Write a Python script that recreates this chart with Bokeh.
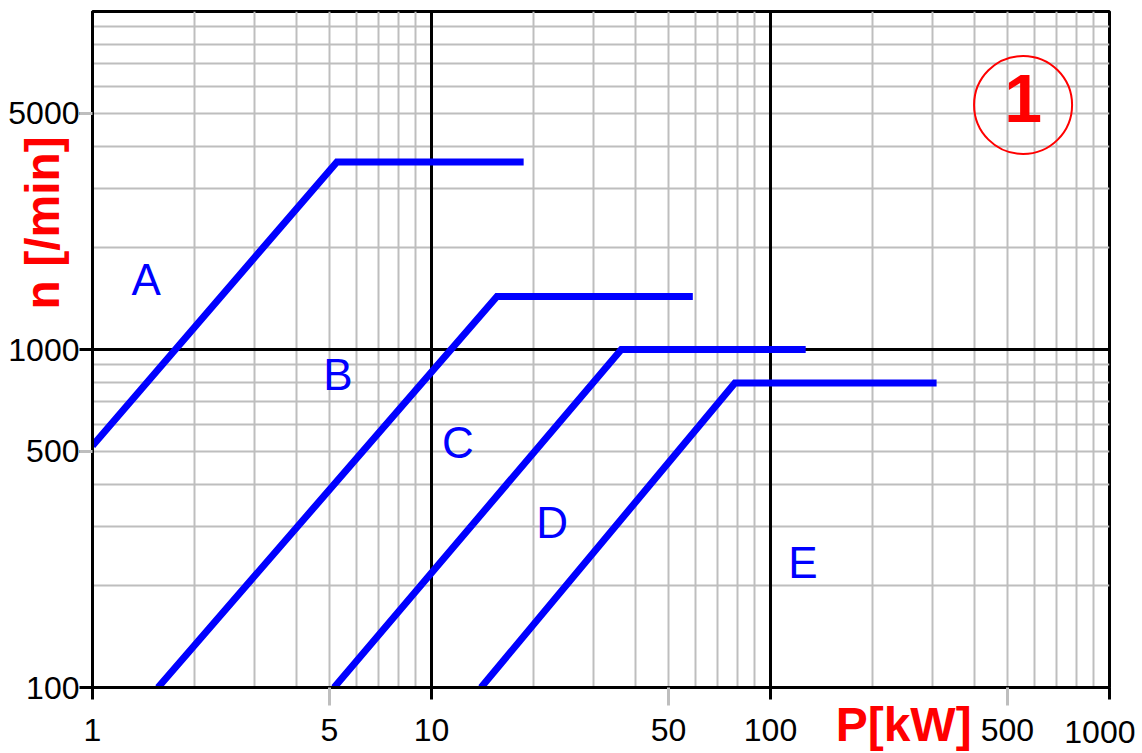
from bokeh.plotting import figure
from bokeh.models import FixedTicker, Grid, Range1d, LogAxis, ColumnDataSource
from bokeh.core.properties import value
from bokeh.embed import file_html
from bokeh.resources import INLINE

# ---- data -------------------------------------------------------------
x_ticks = [1, 5, 10, 50, 100, 500, 1000]
x_tick_labels = ["1", "5", "10", "50", "100", "500", "1000"]
x_half_decades = [5, 50, 500]
y_ticks = [100, 500, 1000, 5000]
y_tick_labels = ["100", "500", "1000", "5000"]
y_half_decades = [500, 5000]

x_minor_grid = [2, 3, 4, 5, 6, 7, 8, 9, 20, 30, 40, 50, 60, 70, 80, 90,
                200, 300, 400, 500, 600, 700, 800, 900]
x_major_grid = [10, 100]
y_minor_grid = [200, 300, 400, 500, 600, 700, 800, 900,
                2000, 3000, 4000, 5000, 6000, 7000, 8000, 9000]
y_major_grid = [1000]

a_power = [1.0, 5.26, 18.7]
a_speed = [519, 3590, 3590]
b_power = [1.56, 15.6, 59.0]
b_speed = [100, 1435, 1435]
c_power = [5.16, 36.3, 127.0]
c_speed = [100, 1000, 1000]
d_power = [14.0, 78.5, 309.0]
d_speed = [100, 796, 796]

curve_letters = ["A", "B", "C", "D", "E"]
letter_power = [1.44, 5.30, 11.97, 22.7, 124.7]
letter_speed = [1608, 844, 532, 307, 234]

badge_text = "1"
badge_power = 556
badge_speed = 5290

x_title = "P[kW]"
x_title_at = 247        # P value under which the title is centred
y_title = "n [/min]"
y_title_at = 2370       # n value beside which the title is centred
last_label_at = 937     # the "1000" label is pulled inside the canvas

# ---- styling ----------------------------------------------------------
FONT = "Liberation Sans"
BLUE = "#0000FF"
RED = "#FF0000"
GRAY = "#BEBEBE"
TICK_FONT_SIZE = "32px"

p = figure(width=1142, height=753, x_axis_type="log", y_axis_type="log",
           x_range=Range1d(1, 1000), y_range=Range1d(100, 10000),
           toolbar_location=None, output_backend="svg", title=None,
           min_border_left=92, min_border_right=33, min_border_top=11,
           min_border_bottom=64)
p.background_fill_color = "white"
p.border_fill_color = "white"
p.outline_line_color = "black"
p.outline_line_width = 3

# grids
p.xgrid.ticker = FixedTicker(ticks=x_minor_grid)
p.ygrid.ticker = FixedTicker(ticks=y_minor_grid)
for g in (p.xgrid, p.ygrid):
    g.grid_line_color = GRAY
    g.grid_line_width = 2
p.add_layout(Grid(dimension=0, ticker=FixedTicker(ticks=x_major_grid),
                  grid_line_color="black", grid_line_width=3))
p.add_layout(Grid(dimension=1, ticker=FixedTicker(ticks=y_major_grid),
                  grid_line_color="black", grid_line_width=3))

# x axis
xa = p.xaxis[0]
xa.ticker = FixedTicker(ticks=x_ticks, minor_ticks=x_half_decades)
overrides = {float(t): l for t, l in zip(x_ticks, x_tick_labels)}
overrides[float(x_ticks[-1])] = " "
xa.major_label_overrides = overrides
xa.axis_line_color = "black"
xa.axis_line_width = 3
xa.major_tick_line_color = "black"
xa.major_tick_line_width = 3
xa.major_tick_in = 0
xa.major_tick_out = 12
xa.minor_tick_line_color = GRAY
xa.minor_tick_line_width = 3
xa.minor_tick_in = 0
xa.minor_tick_out = 18
xa.major_label_standoff = 6
xa.major_label_text_font = FONT
xa.major_label_text_font_size = TICK_FONT_SIZE
xa.major_label_text_color = "black"

# y axis
ya = p.yaxis[0]
ya.ticker = FixedTicker(ticks=y_ticks, minor_ticks=y_half_decades)
ya.major_label_overrides = {float(t): l for t, l in zip(y_ticks, y_tick_labels)}
ya.axis_line_color = "black"
ya.axis_line_width = 3
ya.major_tick_line_color = "black"
ya.major_tick_line_width = 3
ya.major_tick_in = 0
ya.major_tick_out = 13
ya.minor_tick_line_color = GRAY
ya.minor_tick_line_width = 3
ya.minor_tick_in = 0
ya.minor_tick_out = 13
ya.major_label_standoff = 0
ya.major_label_text_font = FONT
ya.major_label_text_font_size = TICK_FONT_SIZE
ya.major_label_text_color = "black"


def text_axis(tick, label, standoff, size, color, bold=False,
              orientation="horizontal"):
    # an axis that only carries one label (no rule, no ticks)
    return LogAxis(ticker=FixedTicker(ticks=[tick]),
                   major_label_overrides={float(tick): label},
                   axis_line_color=None, major_tick_line_color=None,
                   minor_tick_line_color=None, major_tick_in=0,
                   major_tick_out=0, minor_tick_in=0, minor_tick_out=0,
                   major_label_standoff=standoff,
                   major_label_text_font=FONT,
                   major_label_text_font_size=size,
                   major_label_text_color=color,
                   major_label_text_font_style="bold" if bold else "normal",
                   major_label_orientation=orientation)


# "1000" label, kept inside the canvas, level with the other tick labels
p.add_layout(text_axis(last_label_at, x_tick_labels[-1], -30,
                       TICK_FONT_SIZE, "black"), "below")
# axis titles
p.add_layout(text_axis(x_title_at, x_title, -53, "48px", RED, True),
             "below")
p.add_layout(text_axis(y_title_at, y_title, -64, "48px", RED, True,
                       "vertical"), "left")

# curves
for xs, ys in ((a_power, a_speed), (b_power, b_speed),
               (c_power, c_speed), (d_power, d_speed)):
    p.line(xs, ys, line_color=BLUE, line_width=7, line_join="miter",
           line_cap="butt")

# curve letters
src = ColumnDataSource(dict(x=letter_power, y=letter_speed, t=curve_letters))
p.text(x="x", y="y", text="t", source=src, text_color=BLUE,
       text_font=value(FONT), text_font_size="44px",
       text_align="center", text_baseline="middle")

# badge
p.scatter([badge_power], [badge_speed], marker="circle", size=98,
          fill_color=None, line_color=RED, line_width=2)
p.text([badge_power], [badge_speed * 1.045], text=[badge_text],
       text_color=RED, text_font=value(FONT), text_font_style="bold",
       text_font_size="68px", text_align="center", text_baseline="middle")

open("out.html", "w").write(file_html(p, INLINE))
